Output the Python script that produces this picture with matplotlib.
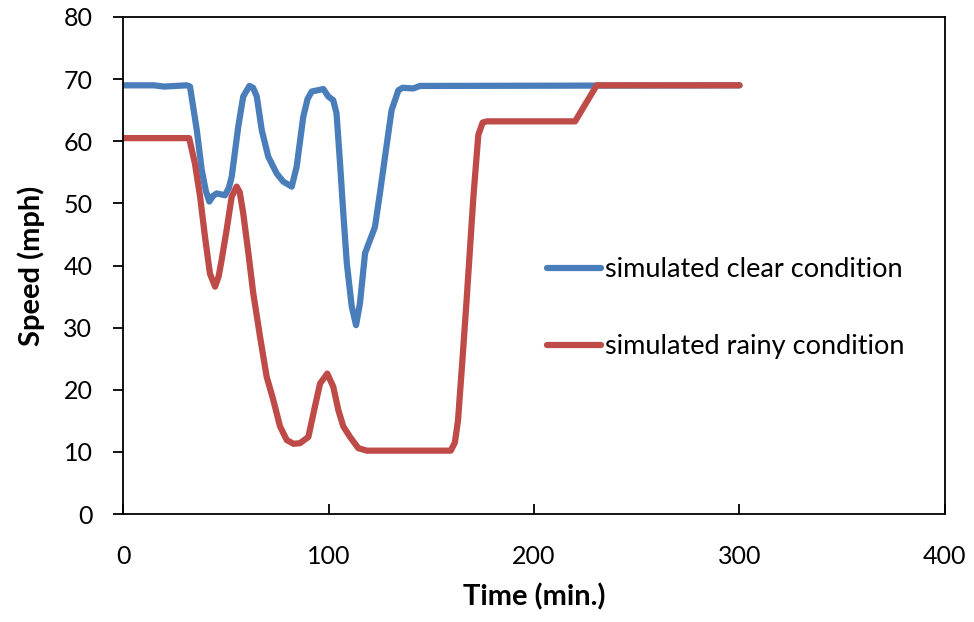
import matplotlib
matplotlib.use("Agg")
import matplotlib.pyplot as plt

plt.rcParams['font.family'] = ['Lato', 'DejaVu Sans']

# simulated clear condition (time in min, speed in mph)
clear_t = [0, 15, 20, 31, 32.6, 35.9, 38.3, 40.3, 42, 43.8, 45.6, 49.6, 51.5, 52.9, 56.1, 58.5,
           61.5, 63.3, 65.1, 67.5, 70.7, 74.8, 78, 82.1, 84.5, 87.7, 89.8, 91.8, 97.5, 99.9,
           102.3, 103.9, 105.6, 107.2, 108.9, 111.3, 113.4, 115.3, 117.8, 120.2, 122.6, 125,
           127.5, 130.7, 134, 136, 141.3, 144.5, 300]
clear_v = [69, 69, 68.8, 69, 68.8, 61.8, 55.4, 52, 50.3, 51.2, 51.6, 51.3, 52.5, 54.3, 62.4, 67.2,
           68.9, 68.6, 67.2, 61.8, 57.5, 54.8, 53.5, 52.7, 55.9, 63.9, 66.8, 68, 68.4, 67.2,
           66.6, 64.5, 56.5, 48.4, 40.4, 33.4, 30.4, 33.9, 42, 44.1, 46.2, 51.6,
           57.5, 65, 68.2, 68.6, 68.5, 68.9, 69]

# simulated rainy condition
rainy_t = [0, 32.2, 35, 37.5, 39.9, 42.3, 44.8, 46.5, 48, 50.4, 52.9, 55.3, 56.8, 58.5, 61, 63.4,
           66.7, 69.9, 73.1, 76.4, 79.7, 83, 86.1, 90.2, 93.4, 95.9, 99.4, 102.3, 104.8, 107.2,
           110.5, 114.5, 118.6, 159.5, 161.5, 163, 165, 167.2, 170.5, 172.9, 175, 177, 220,
           230.5, 300]
rainy_v = [60.5, 60.5, 56.4, 51.1, 44.6, 38.7, 36.6, 38.2, 40.9, 45.7, 51.1, 52.7, 51.8, 48.4, 42, 35.5,
           28.5, 22.1, 18.4, 14.1, 11.9, 11.3, 11.4, 12.4, 17.3, 21, 22.6, 20.5, 16.7, 14.1,
           12.4, 10.6, 10.2, 10.2, 11.5, 15, 24, 34.4, 51, 61, 63, 63.2, 63.2,
           69, 69]

fig = plt.figure(figsize=(9.74, 6.22), dpi=100)
ax = fig.add_axes([0.1263, 0.1736, 0.8439, 0.7991])

ax.plot(clear_t, clear_v, color='#4A7EBB', lw=4.5, solid_capstyle='round',
        solid_joinstyle='round', label='simulated clear condition')
ax.plot(rainy_t, rainy_v, color='#BE4B48', lw=4.5, solid_capstyle='round',
        solid_joinstyle='round', label='simulated rainy condition')

ax.set_xlim(0, 400)
ax.set_ylim(0, 80)
ax.set_xticks(range(0, 401, 100))
ax.set_yticks(range(0, 81, 10))
ax.tick_params(axis='x', direction='in', length=7, width=1.3, labelsize=18, pad=22)
ax.tick_params(axis='y', direction='out', length=7, width=1.3, labelsize=18, pad=15)
for s in ax.spines.values():
    s.set_linewidth(1.3)

ax.set_xlabel('Time (min.)', fontsize=21, fontweight='bold', labelpad=11)
ax.set_ylabel('Speed (mph)', fontsize=21, fontweight='bold', labelpad=13)

ax.legend(loc='upper left', bbox_to_anchor=(0.516, 0.517), frameon=False, fontsize=19.5,
          handlelength=2.0, handletextpad=0.15, labelspacing=1.93,
          borderpad=0, borderaxespad=0)

fig.savefig('out.png', dpi=100)
